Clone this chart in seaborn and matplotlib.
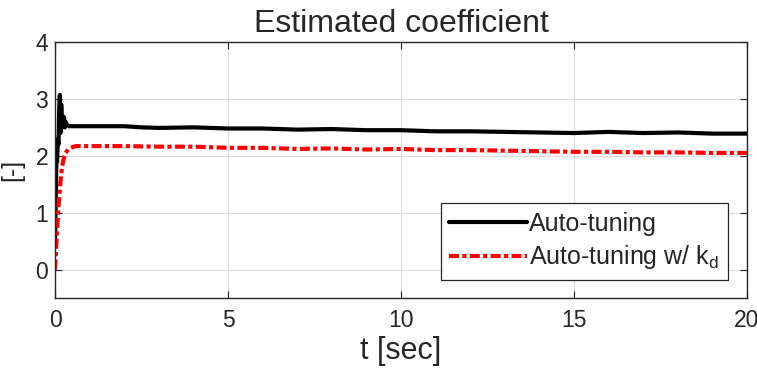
import matplotlib
matplotlib.use("Agg")
import matplotlib.pyplot as plt
import seaborn as sns

# valores
t_auto = [0, 0.02, 0.04, 0.06, 0.08, 0.10, 0.12, 0.14, 0.16, 0.18, 0.20, 0.22, 0.24,
          0.26, 0.28, 0.30, 0.35, 0.40, 0.50, 0.70, 1, 1.5, 2, 2.5, 3, 4, 5, 6, 7, 8,
          9, 10, 11, 12, 13, 14, 15, 16, 17, 18, 19, 20]
k_auto = [0.45, 1.2, 2.0, 1.9, 2.3, 2.2, 2.8, 3.07, 2.4, 2.9, 2.5, 2.7, 2.55,
          2.68, 2.5, 2.6, 2.54, 2.52, 2.52, 2.52, 2.52, 2.52, 2.52, 2.50, 2.49, 2.50,
          2.48, 2.48, 2.46, 2.47, 2.45, 2.45, 2.43, 2.43, 2.42, 2.41, 2.40, 2.42,
          2.40, 2.41, 2.39, 2.39]

t_kd = [0, 0.05, 0.10, 0.15, 0.20, 0.25, 0.30, 0.40, 0.50, 0.60, 0.80, 1, 1.5, 2,
        3, 4, 5, 6, 7, 8, 9, 10, 11, 12, 13, 14, 15, 16, 17, 18, 19, 20]
k_kd = [0, 0.6, 1.1, 1.5, 1.8, 1.95, 2.05, 2.12, 2.15, 2.17, 2.17, 2.17, 2.17, 2.17,
        2.16, 2.16, 2.14, 2.14, 2.12, 2.13, 2.11, 2.12, 2.10, 2.10, 2.09, 2.08,
        2.07, 2.07, 2.06, 2.06, 2.05, 2.05]

x_ticks = [0, 5, 10, 15, 20]
y_ticks = [0, 1, 2, 3, 4]

sns.set_style("ticks")
plt.rcParams["font.family"] = ["Liberation Sans", "DejaVu Sans"]

fig = plt.figure(figsize=(7.57, 3.72), dpi=100)
ax = fig.add_axes([0.0727, 0.199, 0.914, 0.688])

sns.lineplot(x=t_auto, y=k_auto, ax=ax, color="black", linewidth=3,
             label="Auto-tuning", sort=False)
sns.lineplot(x=t_kd, y=k_kd, ax=ax, color="#ff0000", linewidth=3,
             linestyle=(0, (2.4, 0.8, 1, 0.8)),
             label="Auto-tuning w/ k$_\\mathregular{d}$", sort=False)

ax.set_xlim(0, 20)
ax.set_ylim(-0.5, 4)
ax.set_xticks(x_ticks)
ax.set_yticks(y_ticks)
ax.grid(True, color="#dcdcdc", linewidth=0.9)
ax.tick_params(direction="in", top=True, right=True, length=5,
               labelsize=16.5, color="#262626")
ax.tick_params(axis="x", pad=8)
ax.tick_params(axis="y", pad=5)
for s in ax.spines.values():
    s.set_color("#262626")
    s.set_linewidth(1.0)

ax.set_title("Estimated coefficient", fontsize=23, pad=7)
ax.set_xlabel("t [sec]", fontsize=22, labelpad=3)
ax.set_ylabel("[-]", fontsize=18, labelpad=8)

leg = ax.legend(loc="lower right", bbox_to_anchor=(0.973, 0.07), fontsize=18,
                handlelength=3.1, handletextpad=0.1, borderpad=0.35,
                labelspacing=0.3, fancybox=False, framealpha=1,
                edgecolor="#262626", borderaxespad=0)
leg.get_frame().set_linewidth(0.9)

fig.savefig("out.png", dpi=100)
